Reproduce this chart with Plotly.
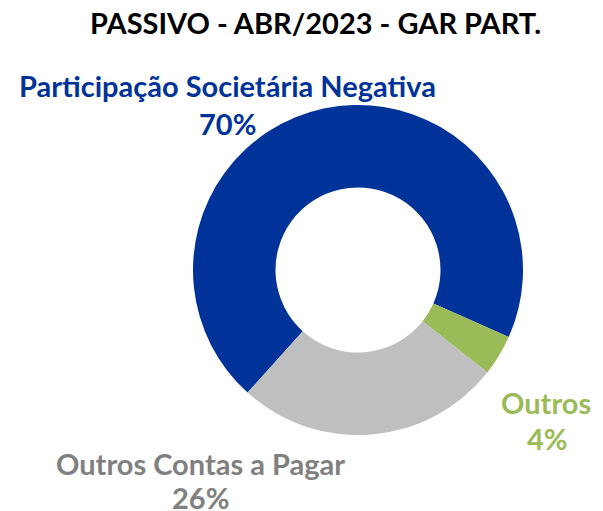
import plotly.graph_objects as go

title_text = "PASSIVO - ABR/2023 - GAR PART."
categories = ["Participação Societária Negativa", "Outros", "Outros Contas a Pagar"]
values = [70, 4, 26]
colors = ["#003399", "#9BBB59", "#BFBFBF"]
label_colors = ["#003399", "#9BBB59", "#808080"]

# label placement in reference pixels (layout only)
name_pos = [(227, 85), (546, 402), (200, 463)]
pct_pos = [(227, 123), (547, 438), (200, 497)]

OFF = 8  # page body margin
W, H = 603 - OFF, 511 - OFF
FONT = "Lato, 'Liberation Sans', sans-serif"
FS = 29


def px(x):
    return (x - OFF) / W


def py(y):
    return 1 - (y - OFF) / H


fig = go.Figure(go.Pie(
    labels=categories,
    values=values,
    marker=dict(colors=colors, line=dict(width=0)),
    hole=0.5,
    sort=False,
    direction="clockwise",
    rotation=222,
    textinfo="none",
    hoverinfo="label+percent",
    domain=dict(x=[px(193), px(523)], y=[py(435), py(105)]),
    showlegend=False,
))

total = sum(values)
annotations = []
for cat, v, col, (nx, ny), (qx, qy) in zip(categories, values, label_colors, name_pos, pct_pos):
    annotations.append(dict(text=f"<b>{cat}</b>", x=px(nx), y=py(ny), xref="paper", yref="paper",
                            xanchor="center", yanchor="middle", showarrow=False,
                            font=dict(family=FONT, size=FS, color=col)))
    annotations.append(dict(text=f"<b>{round(100 * v / total)}%</b>", x=px(qx), y=py(qy),
                            xref="paper", yref="paper", xanchor="center", yanchor="middle",
                            showarrow=False, font=dict(family=FONT, size=FS, color=col)))

annotations.append(dict(text=f"<b>{title_text}</b>", x=px(315), y=py(22), xref="paper", yref="paper",
                        xanchor="center", yanchor="middle", showarrow=False,
                        font=dict(family=FONT, size=FS, color="#000000")))

fig.update_layout(
    width=W, height=H,
    margin=dict(l=0, r=0, t=0, b=0),
    paper_bgcolor="white",
    plot_bgcolor="white",
    annotations=annotations,
)

fig.write_html("out.html")
